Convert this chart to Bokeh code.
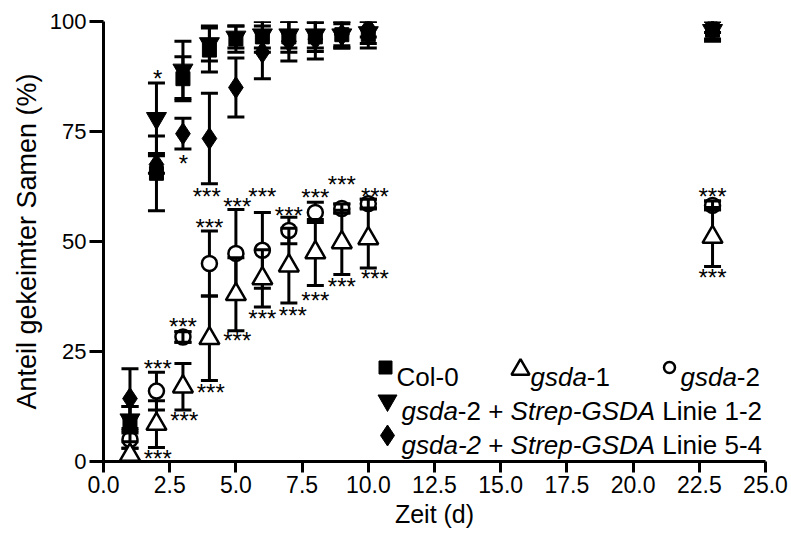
from bokeh.plotting import figure
from bokeh.models import FixedTicker, Label, ColumnDataSource
from bokeh.embed import file_html
from bokeh.resources import INLINE
from bokeh.core.properties import value

# ---------------- data ----------------
days = [1, 2, 3, 4, 5, 6, 7, 8, 9, 10, 23]

col0_mean = [8.5, 65.5, 87.0, 93.5, 96.0, 96.5, 96.5, 96.5, 97.0, 97.0, 98.0]
col0_sd = [4.0, 8.5, 5.0, 5.0, 3.0, 3.5, 3.5, 3.3, 3.0, 3.0, 2.5]

gsda1_mean = [1.5, 8.5, 17.0, 28.0, 38.0, 41.6, 44.5, 47.5, 49.8, 50.7, 51.0]
gsda1_sd = [1.5, 5.3, 5.3, 9.6, 8.3, 6.5, 8.5, 7.5, 7.3, 6.7, 6.7]

gsda2_mean = [5.0, 16.0, 28.3, 45.0, 47.3, 48.0, 52.5, 56.6, 57.5, 58.6, 58.2]
gsda2_sd = [2.0, 4.3, 1.2, 7.4, 10.0, 8.6, 3.0, 2.3, 1.0, 1.0, 1.0]

l12_mean = [9.5, 78.0, 89.0, 95.0, 96.5, 97.0, 97.0, 97.0, 97.0, 97.5, 98.0]
l12_sd = [3.0, 8.0, 6.5, 4.0, 2.5, 3.0, 3.0, 3.0, 2.5, 2.5, 2.0]

l54_mean = [14.3, 67.5, 74.5, 73.4, 85.0, 93.0, 95.5, 96.0, 97.0, 98.5, 99.0]
l54_sd = [6.8, 2.0, 3.5, 10.3, 6.7, 6.0, 4.5, 4.5, 3.0, 2.0, 1.5]

# significance marks (x, y in data units)
sig3_x = [2.05, 3.0, 4.0, 5.05, 6.0, 7.0, 8.0, 9.0, 10.25, 23.0,
          2.05, 3.05, 4.05, 5.05, 6.0, 7.15, 8.0, 9.0, 10.25, 23.0, 3.9]
sig3_y = [21.8, 31.4, 53.9, 58.6, 61.0, 56.6, 60.7, 63.6, 61.0, 61.0,
          1.4, 10.0, 16.4, 28.2, 33.2, 33.9, 37.3, 40.5, 42.3, 42.5, 61.0]
sig1_x = [2.05, 3.02]
sig1_y = [87.7, 68.4]

x_ticks = [0, 2.5, 5, 7.5, 10, 12.5, 15, 17.5, 20, 22.5, 25]
x_tick_labels = ["0.0", "2.5", "5.0", "7.5", "10.0", "12.5", "15.0", "17.5", "20.0", "22.5", "25.0"]
y_ticks = [0, 25, 50, 75, 100]

FONT = "Liberation Sans"

p = figure(width=791, height=536, x_range=(0, 25), y_range=(0, 100),
           output_backend="svg", toolbar_location=None,
           min_border_left=103, min_border_right=26, min_border_top=21, min_border_bottom=75)
p.outline_line_color = None
p.xgrid.visible = False
p.ygrid.visible = False
p.background_fill_color = "white"

for ax in (p.xaxis[0], p.yaxis[0]):
    ax.axis_line_width = 3
    ax.axis_line_color = "black"
    ax.major_tick_line_width = 3
    ax.major_tick_line_color = "black"
    ax.major_tick_in = 0
    ax.minor_tick_line_color = None
    ax.major_label_text_font = FONT
    ax.major_label_text_color = "black"
    ax.axis_label_text_font = FONT
    ax.axis_label_text_font_style = "normal"
    ax.axis_label_text_color = "black"

p.xaxis.ticker = FixedTicker(ticks=x_ticks)
p.xaxis.major_label_overrides = {t: l for t, l in zip(x_ticks, x_tick_labels)}
p.xaxis.major_tick_out = 11
p.xaxis.major_label_text_font_size = "23px"
p.xaxis.major_label_standoff = 3
p.xaxis.axis_label = "Zeit (d)"
p.xaxis.axis_label_text_font_size = "25px"
p.xaxis.axis_label_standoff = 4

p.yaxis.ticker = FixedTicker(ticks=y_ticks)
p.yaxis.major_tick_out = 14
p.yaxis.major_label_text_font_size = "22px"
p.yaxis.major_label_standoff = 3
p.yaxis.axis_label = "Anteil gekeimter Samen (%)"
p.yaxis.axis_label_text_font_size = "27px"
p.yaxis.axis_label_standoff = 5

CAP = 17
LW = 3


def whiskers(xs, m, s, mask=None):
    xx, lo, hi = [], [], []
    for i, (x, mm, ss) in enumerate(zip(xs, m, s)):
        if mask is not None and not mask[i]:
            continue
        xx.append(x)
        lo.append(mm - ss)
        hi.append(mm + ss)
    if not xx:
        return
    p.segment(x0=xx, y0=lo, x1=xx, y1=hi, line_color="black", line_width=LW)
    p.scatter(x=xx + xx, y=lo + hi, marker="dash", size=CAP, line_color="black", line_width=LW)


# gsda-2 (open circles)
whiskers(days, gsda2_mean, gsda2_sd)
p.scatter(days, gsda2_mean, marker="circle", size=15, fill_color="white",
          line_color="black", line_width=2.5)
whiskers(days, gsda2_mean, gsda2_sd, mask=[s < 2 for s in gsda2_sd])

# gsda-1 (open triangles)
whiskers(days, gsda1_mean, gsda1_sd)
p.scatter(days, gsda1_mean, marker="triangle", size=20, fill_color="white",
          line_color="black", line_width=2.5)

# Col-0 (filled squares)
whiskers(days, col0_mean, col0_sd)
p.scatter(days, col0_mean, marker="square", size=14, fill_color="black", line_color="black")

# Linie 1-2 (filled inverted triangles)
whiskers(days, l12_mean, l12_sd)
p.scatter(days, l12_mean, marker="inverted_triangle", size=20, fill_color="black", line_color="black")

# Linie 5-4 (filled diamonds)
whiskers(days, l54_mean, l54_sd)
p.scatter(days, l54_mean, marker="diamond", size=22, fill_color="black", line_color="black")

# significance asterisks
src3 = ColumnDataSource(dict(x=sig3_x, y=sig3_y, t=["***"] * len(sig3_x)))
p.text(x="x", y="y", text="t", source=src3, text_align="center", text_baseline="alphabetic",
       y_offset=3, text_font=value(FONT), text_font_size="24px", text_color="black")
src1 = ColumnDataSource(dict(x=sig1_x, y=sig1_y, t=["*"] * len(sig1_x)))
p.text(x="x", y="y", text="t", source=src1, text_align="center", text_baseline="alphabetic",
       y_offset=3, text_font=value(FONT), text_font_size="24px", text_color="black")

# ---------------- legend (built by hand for mixed italic text) ----------------
LEG_FS = 26
W = {"g": 556, "s": 500, "d": 556, "a": 556, "-": 333, "1": 556, "2": 556, "+": 584, " ": 278,
     "S": 667, "t": 278, "r": 333, "e": 556, "p": 556, "G": 778, "D": 722, "A": 667, "L": 556,
     "i": 222, "n": 556, "5": 556, "4": 556, "C": 722, "o": 556, "l": 222, "0": 556}


def tw(s):
    return sum(W.get(c, 556) for c in s) / 1000.0 * LEG_FS


FX0, FX1, FY0, FY1 = 103.0, 765.0, 21.0, 461.0


def dx(px):
    return (px - FX0) / (FX1 - FX0) * 25.0


def dy(py):
    return (FY1 - py) / (FY1 - FY0) * 100.0


def leg_text(px, py, parts):
    x = px
    for txt, style in parts:
        lead = len(txt) - len(txt.lstrip(" "))
        core = txt.strip(" ")
        x += tw(" " * lead)
        if core:
            p.add_layout(Label(x=dx(x), y=dy(py), text=core, text_font=FONT,
                               text_font_size=f"{LEG_FS}px", text_font_style=style,
                               text_color="black", text_baseline="alphabetic", text_align="left"))
        x += tw(core) + tw(" " * (len(txt) - lead - len(core)))


rows_y = [376, 410, 444]
leg_text(396, rows_y[0], [("Col-0", "normal")])
leg_text(530, rows_y[0], [("gsda", "italic"), ("-1", "normal")])
leg_text(680, rows_y[0], [("gsda", "italic"), ("-2", "normal")])
leg_text(401, rows_y[1], [("gsda", "italic"), ("-2 + ", "normal"), ("Strep-GSDA", "italic"),
                          (" Linie 1-2", "normal")])
leg_text(401, rows_y[2], [("gsda-2", "italic"), (" + ", "normal"), ("Strep-GSDA", "italic"),
                          (" Linie 5-4", "normal")])

p.scatter([dx(385)], [dy(367)], marker="square", size=13, fill_color="black", line_color="black")
p.scatter([dx(520)], [dy(369)], marker="triangle", size=18, fill_color="white", line_color="black",
          line_width=2.5)
p.scatter([dx(669)], [dy(367)], marker="circle", size=11, fill_color="white", line_color="black",
          line_width=2.5)
p.scatter([dx(387)], [dy(400)], marker="inverted_triangle", size=19, fill_color="black",
          line_color="black")
p.scatter([dx(387)], [dy(435)], marker="diamond", size=21, fill_color="black", line_color="black")

open("out.html", "w").write(file_html(p, INLINE))
